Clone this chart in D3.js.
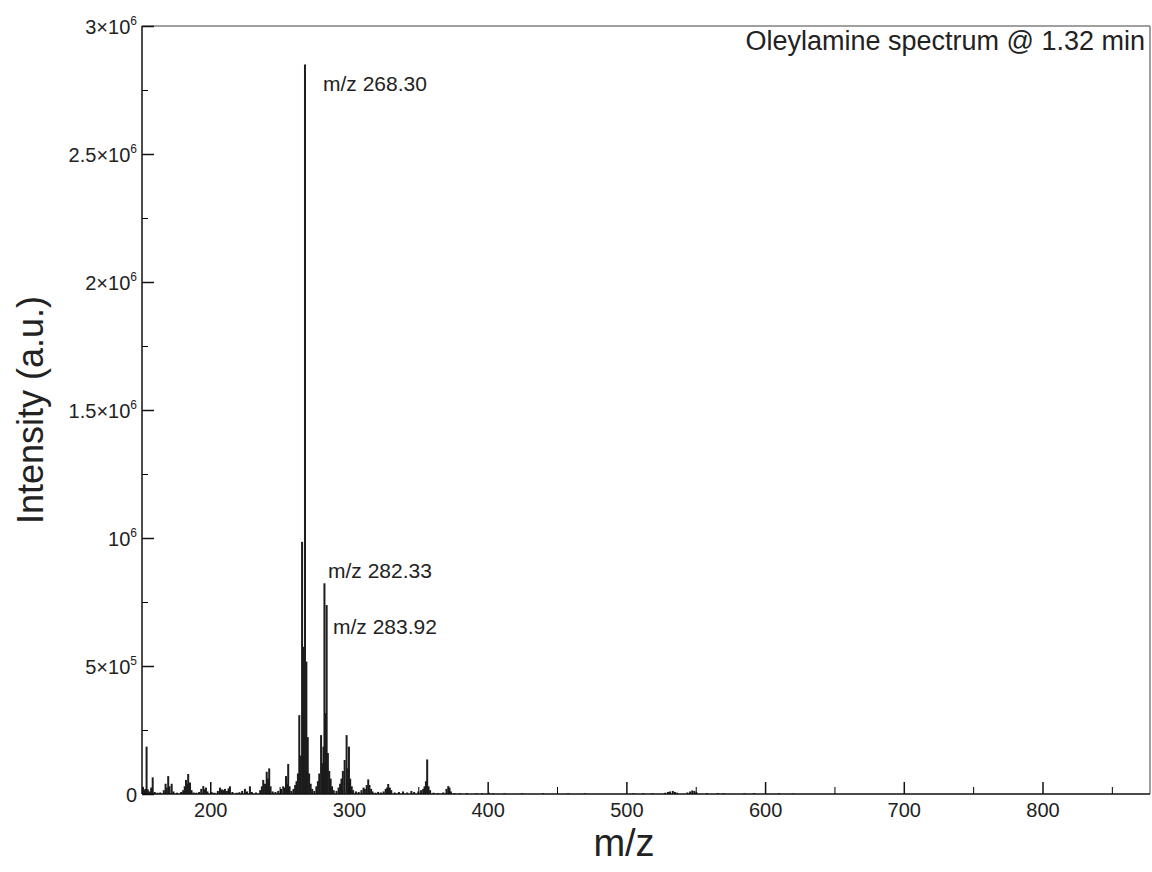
<!DOCTYPE html>
<html><head><meta charset="utf-8">
<script src="https://cdn.jsdelivr.net/npm/d3@7"></script>
<style>body{margin:0;background:#fff;} svg{display:block;font-family:"Liberation Sans",Arial,sans-serif;}</style>
</head><body>
<svg id="c" width="1152" height="872"></svg>
<script>
// m/z positions of the sticks
const mzValues = [151.5,152.3,153.2,154.1,155.0,156.2,157.4,158.5,160.0,162,164,166.5,167.8,168.6,169.7,170.6,172.2,173.5,176,179,180.5,181.6,182.5,183.3,184.1,185.4,186.5,188,190,192,193.5,195,196,196.9,198,201,203,205.5,207,208.4,209.5,210.6,212,213.2,214.2,216,219,221,223,225,226.5,228.6,230,233,236,237.2,238.2,239.5,240.7,241.6,242.5,243.5,245,247,249,251,252.6,253.5,254.6,255.4,256.2,257.2,258.5,260,261.2,262.2,263.2,264.2,265.2,266.2,267.3,268.3,269.3,270.3,271.3,272.4,273.5,275,276.5,277.6,278.6,279.9,280.8,281.6,282.33,283.1,283.92,284.8,285.8,286.8,287.8,289,291,292.5,293.6,294.6,295.6,296.9,298.3,299.2,300.0,300.9,302,303,305,307,309,310.5,311.5,312.8,313.9,314.8,316,317,319,321,323,325,326.5,327.5,328.3,329.5,330.5,333,336,339,342,345,347,350,352,353.5,354.5,355.5,356.4,357.4,358.5,361,364,368,370.3,371.6,372.5,373.5,376,380,385,392,396,401,404,412,425,440,458,470,505,512,519,528,530,531.5,533.5,535,536.5,544,546,547.5,549,550.5,558,566,570,585,592,610,620];
// intensities (a.u.)
const intensityValues = [28e3,15e3,20e3,185e3,18e3,10e3,25e3,65e3,8e3,5e3,6e3,15e3,40e3,25e3,70e3,30e3,40e3,10e3,5e3,8e3,15e3,30e3,55e3,40e3,78e3,45e3,15e3,6e3,5e3,8e3,20e3,31e3,18e3,25e3,10e3,8e3,5e3,12e3,25e3,18e3,15e3,20e3,12e3,22e3,30e3,8e3,5e3,7e3,12e3,20e3,10e3,30e3,8e3,6e3,15e3,30e3,55e3,40e3,87e3,60e3,100e3,30e3,10e3,8e3,12e3,20e3,30e3,25e3,70e3,40e3,117e3,30e3,12e3,20e3,35e3,50e3,80e3,308e3,150e3,985e3,575e3,2850e3,517e3,222e3,80e3,40e3,20e3,12e3,30e3,50e3,80e3,230e3,120e3,185e3,823e3,316e3,738e3,160e3,90e3,60e3,30e3,15e3,12e3,25e3,40e3,60e3,90e3,133e3,230e3,100e3,185e3,60e3,30e3,15e3,10e3,8e3,15e3,25e3,20e3,35e3,57e3,35e3,20e3,10e3,5e3,8e3,6e3,10e3,20e3,25e3,39e3,25e3,15e3,6e3,8e3,10e3,6e3,12e3,8e3,10e3,15e3,20e3,30e3,50e3,135e3,30e3,15e3,5e3,4e3,6e3,20e3,31e3,25e3,10e3,4e3,3e3,4e3,3e3,3e3,5e3,3e3,3e3,3e3,3e3,3e3,3e3,3e3,3e3,3e3,5e3,8e3,10e3,12e3,8e3,5e3,6e3,10e3,14e3,12e3,7e3,4e3,4e3,3e3,3e3,4e3,3e3,2e3];

const xTicks = [200,300,400,500,600,700,800];
const xMinorTicks = [250,350,450,550,650,750,850];
const yTicks = [0,5e5,1e6,1.5e6,2e6,2.5e6,3e6];
const yTickMantissa = ["0","5×10","10","1.5×10","2×10","2.5×10","3×10"];
const yTickExponent = ["","5","6","6","6","6","6"];
const yMinorTicks = [2.5e5,7.5e5,1.25e6,1.75e6,2.25e6,2.75e6];

const peakLabels = ["m/z 268.30","m/z 282.33","m/z 283.92"];

const title = "Oleylamine spectrum @ 1.32 min";

const L=142, T=26, R=1150, B=794;
const svg = d3.select("#c");
const x = d3.scaleLinear().domain([150.8,877.5]).range([L,R]);
const y = d3.scaleLinear().domain([0,3e6]).range([B,T]);

// sticks
svg.append("g").selectAll("line").data(mzValues.map((m,i)=>({m,v:intensityValues[i]})))
  .join("line")
  .attr("x1",d=>x(d.m)).attr("x2",d=>x(d.m))
  .attr("y1",y(0)).attr("y2",d=>y(d.v))
  .attr("stroke","#1c1c1c").attr("stroke-width",2);

// frame top/right
svg.append("line").attr("x1",L).attr("x2",R).attr("y1",T).attr("y2",T).attr("stroke","#808080").attr("stroke-width",1.5);
svg.append("line").attr("x1",R).attr("x2",R).attr("y1",T).attr("y2",B).attr("stroke","#808080").attr("stroke-width",1.5);

// x axis
const gx = svg.append("g").attr("transform",`translate(0,${B})`)
  .call(d3.axisBottom(x).tickValues(xTicks).tickSize(-12).tickPadding(9).tickFormat(d3.format("d")));
svg.append("g").attr("transform",`translate(0,${B})`)
  .call(d3.axisBottom(x).tickValues(xMinorTicks).tickSize(-7).tickFormat(""))
  .call(g=>g.select(".domain").remove());
gx.select(".domain").attr("d",`M${L},0H${R}`);

// y axis
const gy = svg.append("g").attr("transform",`translate(${L},0)`)
  .call(d3.axisLeft(y).tickValues(yTicks).tickSize(-12).tickPadding(5).tickFormat(""));
gy.select(".domain").attr("d",`M0,${B}V${T}`);
svg.append("g").attr("transform",`translate(${L},0)`)
  .call(d3.axisLeft(y).tickValues(yMinorTicks).tickSize(-6).tickFormat(""))
  .call(g=>g.select(".domain").remove());

[gx, gy].forEach(g=>{
  g.selectAll(".domain,.tick line").attr("stroke","#111").attr("stroke-width",1.5);
});
gx.selectAll(".tick text").attr("font-size",20).attr("fill","#222").attr("font-family","Liberation Sans, Arial");

gy.selectAll(".tick").each(function(d,i){
  const t = d3.select(this).select("text").attr("font-size",20).attr("fill","#222")
    .attr("font-family","Liberation Sans, Arial").attr("x",-5).attr("dy","0.35em");
  t.text(null);
  t.append("tspan").text(yTickMantissa[i]);
  if (yTickExponent[i]) t.append("tspan").attr("font-size",12).attr("dy",-9).text(yTickExponent[i]);
});

// axis titles
svg.append("text").attr("transform",`translate(43,${(T+B)/2}) rotate(-90)`)
  .attr("text-anchor","middle").attr("font-size",36).attr("fill","#222").text("Intensity (a.u.)");
svg.append("text").attr("x",624).attr("y",856)
  .attr("text-anchor","middle").attr("font-size",38).attr("fill","#222").text("m/z");

// title
svg.append("text").attr("x",1145).attr("y",50).attr("text-anchor","end")
  .attr("font-size",27).attr("fill","#222").text(title);

// peak labels
const labPos = [[323,91],[328,578],[333,634]];
svg.append("g").selectAll("text").data(peakLabels).join("text")
  .attr("x",(d,i)=>labPos[i][0]).attr("y",(d,i)=>labPos[i][1])
  .attr("font-size",21).attr("fill","#222").text(d=>d);
</script>
</body></html>
